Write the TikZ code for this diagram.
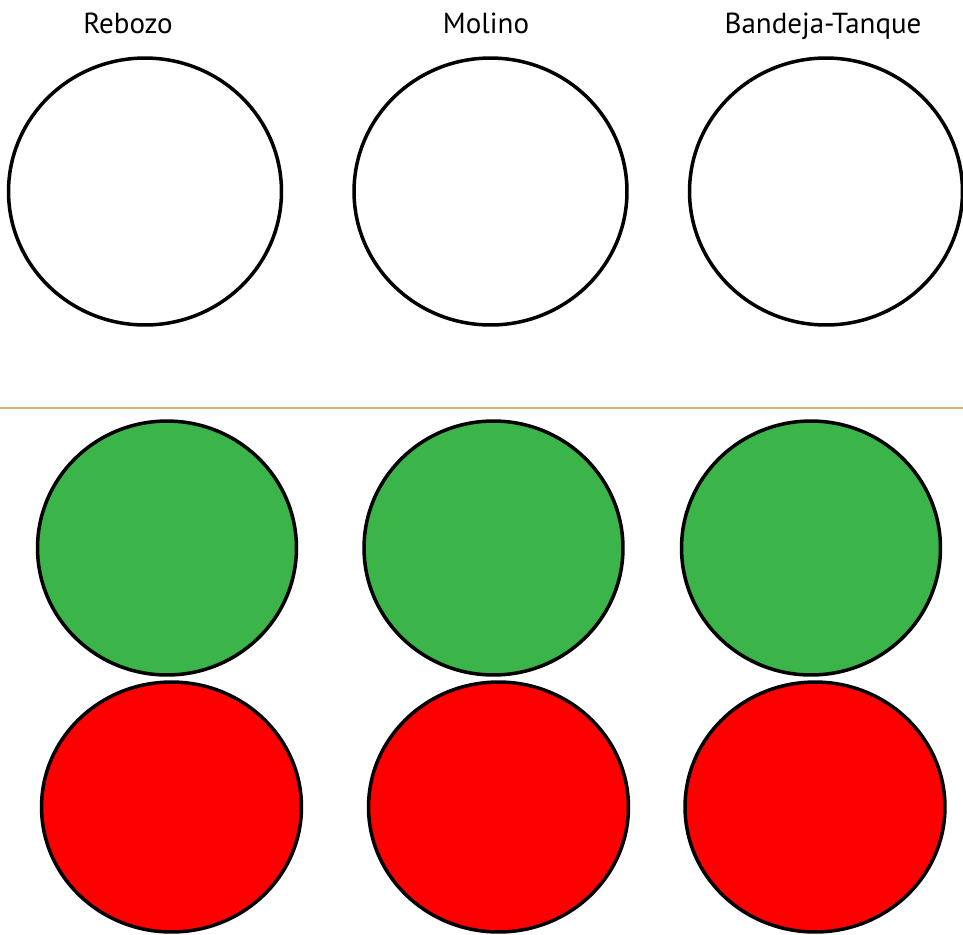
\documentclass[tikz,border=0pt]{standalone}
\usepackage{fontspec}
\setmainfont{PT Sans}
\usetikzlibrary{shapes.geometric}

\definecolor{lampgreen}{RGB}{59,180,74}
\definecolor{lampred}{RGB}{255,0,0}
\definecolor{divider}{RGB}{222,178,110}

\begin{document}
\begin{tikzpicture}[x=0.02cm, y=-0.02cm, line width=0.7mm,
	lamp/.style={draw=black, ellipse, inner sep=0pt},
	lamptop/.style={lamp, fill=white, minimum width=5.46cm, minimum height=5.34cm},
	lampmid/.style={lamp, fill=lampgreen, minimum width=5.18cm, minimum height=5.08cm},
	lampbot/.style={lamp, fill=lampred, minimum width=5.2cm, minimum height=5.0cm},
	title/.style={anchor=base, font=\fontsize{16.5pt}{18pt}\selectfont}]
\useasboundingbox (0,0) rectangle (963,934);

% titles
\node[title] (trebozo) at (128,33) {Rebozo};
\node[title] (tmolino) at (486,33) {Molino};
\node[title] (tbandeja) at (823,33) {Bandeja-Tanque};

% empty circles
\node[lamptop] (rebozo0) at (145,191.5) {};
\node[lamptop] (molino0) at (490.5,191.5) {};
\node[lamptop] (bandeja0) at (826,191.5) {};

% divider
\draw[divider, line width=0.5mm] (0,408) -- (963,408);

% green (on)
\node[lampmid] (rebozo1) at (167,548) {};
\node[lampmid] (molino1) at (493.5,548) {};
\node[lampmid] (bandeja1) at (811,548) {};

% red (off)
\node[lampbot] (rebozo2) at (171.5,807) {};
\node[lampbot] (molino2) at (498.5,807) {};
\node[lampbot] (bandeja2) at (815,807) {};

\end{tikzpicture}
\end{document}
